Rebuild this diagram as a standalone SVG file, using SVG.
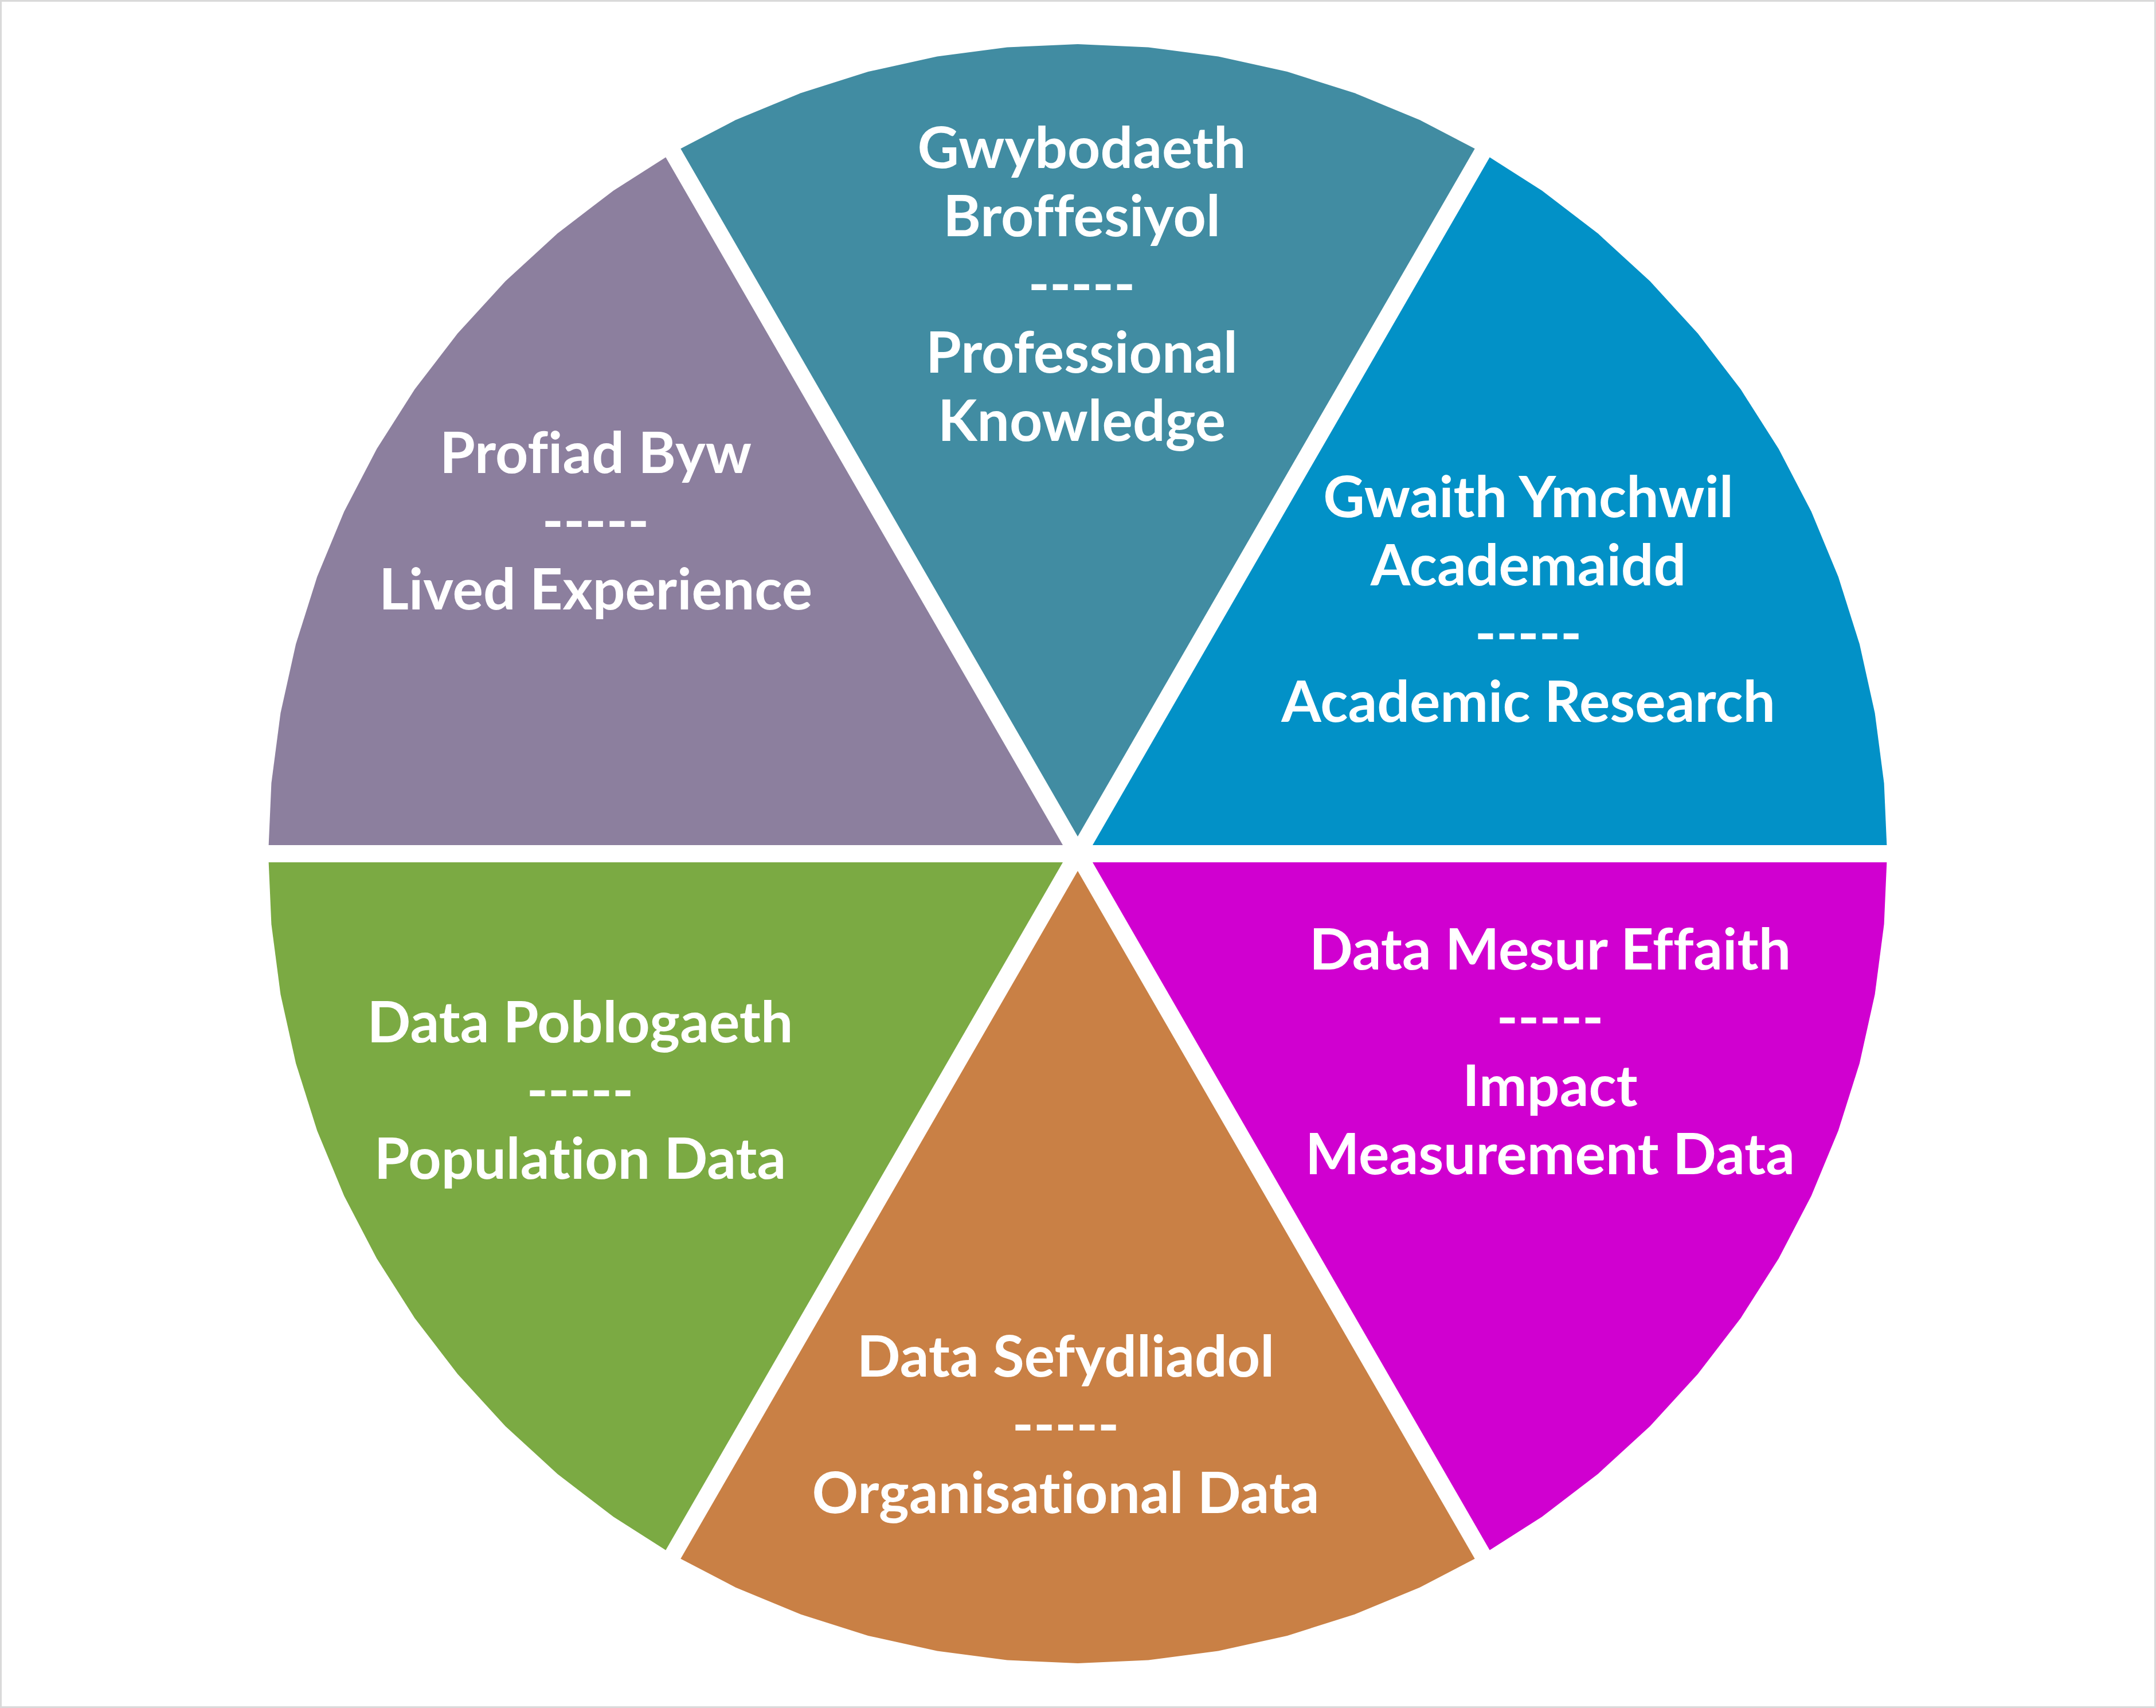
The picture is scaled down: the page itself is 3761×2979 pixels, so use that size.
<svg xmlns="http://www.w3.org/2000/svg" width="3761" height="2979" viewBox="0 0 3761 2979">
<style>
.lbl{font-family:Lato,"Open Sans","Liberation Sans",sans-serif;font-weight:bold;font-size:100px;fill:#ffffff;text-anchor:middle;font-variant-ligatures:none;font-feature-settings:"liga" 0,"dlig" 0,"clig" 0}
.sep{stroke:#ffffff;stroke-width:30;fill:none}
</style>
<rect x="1.5" y="1.5" width="3758" height="2976" fill="#ffffff" stroke="#d9d9d9" stroke-width="3"/>
<g id="academic-research">
<path fill="#0291c7" d="M1880,1489 L3292,1489 3286.6,1365.9 3270.6,1243.8 3243.9,1123.5 3206.8,1006.1 3159.7,892.3 3102.8,783 3036.6,679.1 2961.7,581.4 2878.4,490.6 2787.6,407.3 2689.9,332.4 2586,266.2 Z"/>
<text class="lbl" x="2666" y="902">Gwaith Ymchwil</text>
<text class="lbl" x="2666" y="1021">Academaidd</text>
<text class="lbl" x="2666" y="1140">-----</text>
<text class="lbl" x="2666" y="1259">Academic Research</text>
</g>
<g id="professional-knowledge">
<path fill="#418ca2" d="M1880,1489 L2586,266.2 2476.7,209.3 2362.9,162.2 2245.5,125.1 2125.2,98.4 2003.1,82.4 1880,77 1756.9,82.4 1634.8,98.4 1514.5,125.1 1397.1,162.2 1283.3,209.3 1174,266.2 Z"/>
<text class="lbl" x="1887" y="293">Gwybodaeth</text>
<text class="lbl" x="1887" y="412">Broffesiyol</text>
<text class="lbl" x="1887" y="531">-----</text>
<text class="lbl" x="1887" y="650">Professional</text>
<text class="lbl" x="1887" y="769">Knowledge</text>
</g>
<g id="lived-experience">
<path fill="#8c7f9e" d="M1880,1489 L1174,266.2 1070.1,332.4 972.4,407.3 881.6,490.6 798.3,581.4 723.4,679.1 657.2,783 600.3,892.3 553.2,1006.1 516.1,1123.5 489.4,1243.8 473.4,1365.9 468,1489 Z"/>
<text class="lbl" x="1039" y="825">Profiad Byw</text>
<text class="lbl" x="1039" y="944">-----</text>
<text class="lbl" x="1039" y="1063">Lived Experience</text>
</g>
<g id="population-data">
<path fill="#7baa43" d="M1880,1489 L468,1489 473.4,1612.1 489.4,1734.2 516.1,1854.5 553.2,1971.9 600.3,2085.7 657.2,2195 723.4,2298.9 798.3,2396.6 881.6,2487.4 972.4,2570.7 1070.1,2645.6 1174,2711.8 Z"/>
<text class="lbl" x="1012" y="1818">Data Poblogaeth</text>
<text class="lbl" x="1012" y="1937">-----</text>
<text class="lbl" x="1012" y="2056">Population Data</text>
</g>
<g id="organisational-data">
<path fill="#c98045" d="M1880,1489 L1174,2711.8 1283.3,2768.7 1397.1,2815.8 1514.5,2852.9 1634.8,2879.6 1756.9,2895.6 1880,2901 2003.1,2895.6 2125.2,2879.6 2245.5,2852.9 2362.9,2815.8 2476.7,2768.7 2586,2711.8 Z"/>
<text class="lbl" x="1859" y="2401">Data Sefydliadol</text>
<text class="lbl" x="1859" y="2520">-----</text>
<text class="lbl" x="1859" y="2639">Organisational Data</text>
</g>
<g id="impact-measurement-data">
<path fill="#d000d0" d="M1880,1489 L2586,2711.8 2689.9,2645.6 2787.6,2570.7 2878.4,2487.4 2961.7,2396.6 3036.6,2298.9 3102.8,2195 3159.7,2085.7 3206.8,1971.9 3243.9,1854.5 3270.6,1734.2 3286.6,1612.1 3292,1489 Z"/>
<text class="lbl" x="2704" y="1691">Data Mesur Effaith</text>
<text class="lbl" x="2704" y="1810">-----</text>
<text class="lbl" x="2704" y="1929">Impact</text>
<text class="lbl" x="2704" y="2048">Measurement Data</text>
</g>
<g id="separators">
<line class="sep" x1="440" y1="1489" x2="3320" y2="1489"/>
<line class="sep" x1="2600" y1="242" x2="1160" y2="2736"/>
<line class="sep" x1="1160" y1="242" x2="2600" y2="2736"/>
</g>
</svg>
